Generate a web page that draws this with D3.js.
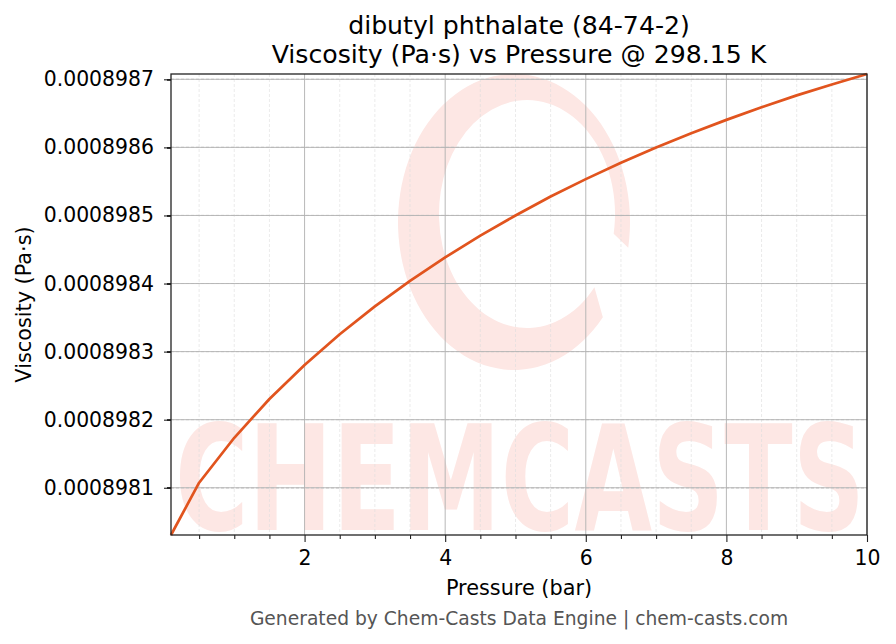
<!DOCTYPE html>
<html>
<head>
<meta charset="utf-8">
<script src="https://cdn.jsdelivr.net/npm/d3@7"></script>
<style>
  body { margin: 0; background: #fff; }
  svg { display: block; font-family: "DejaVu Sans", sans-serif; }
</style>
</head>
<body>
<svg id="chart" width="896" height="644"></svg>
<script>
// --- Data: viscosity of dibutyl phthalate at 298.15 K ---
const pressure = [0.1, 0.5, 1.0, 1.5, 2.0, 2.5, 3.0, 3.5, 4.0, 4.5, 5.0,
    5.5, 6.0, 6.5, 7.0, 7.5, 8.0, 8.5, 9.0, 9.5, 10.0];
const viscosity = [0.0008980306, 0.0008981074, 0.0008981734, 0.0008982304, 0.0008982804,
    0.0008983254, 0.0008983664, 0.0008984039, 0.0008984384, 0.0008984704, 0.0008984999,
    0.0008985279, 0.0008985534, 0.0008985774, 0.0008985999, 0.0008986209, 0.0008986404,
    0.0008986589, 0.0008986764, 0.0008986924, 0.0008987078];
const xTicks = [2, 4, 6, 8, 10];
const xMinor = [0.5, 1, 1.5, 2.5, 3, 3.5, 4.5, 5, 5.5, 6.5, 7, 7.5, 8.5, 9, 9.5];
const yTicks = [0.0008981, 0.0008982, 0.0008983, 0.0008984, 0.0008985, 0.0008986, 0.0008987];
const yMinorStep = 2e-11;

const titleLines = ["dibutyl phthalate (84-74-2)", "Viscosity (Pa\u00b7s) vs Pressure @ 298.15 K"];
const xLabel = "Pressure (bar)";
const yLabel = "Viscosity (Pa\u00b7s)";
const footer = "Generated by Chem-Casts Data Engine | chem-casts.com";

const data = pressure.map((p, i) => ({ p: p, v: viscosity[i] }));

const svg = d3.select("#chart"),
    margin = { top: 74, right: 29, bottom: 109, left: 171 },
    width = +svg.attr("width") - margin.left - margin.right,
    height = +svg.attr("height") - margin.top - margin.bottom;

const g = svg.append("g")
    .attr("transform", `translate(${margin.left},${margin.top})`);

const x = d3.scaleLinear()
    .domain(d3.extent(pressure))
    .range([0, width]);

const y = d3.scaleLinear()
    .domain(d3.extent(viscosity))
    .range([height, 0]);

// minor y ticks: 4 between each pair of majors, plus those inside the domain outside them
const yMinor = [];
for (let i = -1; i < yTicks.length; i++) {
    const base = i < 0 ? yTicks[0] - 1e-10 : yTicks[i];
    for (let k = 1; k <= 4; k++) {
        const v = base + k * yMinorStep;
        if (v > y.domain()[0] && v < y.domain()[1]) yMinor.push(v);
    }
}

// --- watermark (decorative) ---
const wm = g.append("g").attr("fill", "#fde7e4");
const ell = (cx, cy, rx, ry, deg) => {
    const t = deg * Math.PI / 180;
    return [cx + rx * Math.cos(t), cy + ry * Math.sin(t)];
};
const o1 = ell(343, 148, 116, 148, 40), o2 = ell(343, 148, 116, 148, 10);
const i1 = ell(356, 140, 88, 114, 10), i2 = ell(356, 140, 88, 114, 40);
wm.append("path")
    .attr("d", `M${o1} A116,148 0 1 1 ${o2} L${i1} A88,114 0 1 0 ${i2} Z`);
wm.append("text")
    .attr("x", 4)
    .attr("y", 456)
    .attr("font-size", 146)
    .attr("font-weight", "bold")
    .attr("textLength", 690)
    .attr("lengthAdjust", "spacingAndGlyphs")
    .text("CHEMCASTS");

// --- grid ---
const grid = g.append("g");
grid.selectAll(".xminor")
    .data(xMinor).enter().append("line")
    .attr("class", "xminor")
    .attr("x1", d => x(d)).attr("x2", d => x(d))
    .attr("y1", 0).attr("y2", height)
    .attr("stroke", "#dddddd").attr("stroke-width", 0.6).attr("stroke-dasharray", "3,2");
grid.selectAll(".yminor")
    .data(yMinor).enter().append("line")
    .attr("class", "yminor")
    .attr("x1", 0).attr("x2", width)
    .attr("y1", d => y(d)).attr("y2", d => y(d))
    .attr("stroke", "#dddddd").attr("stroke-width", 0.6).attr("stroke-dasharray", "3,2");
grid.selectAll(".xmajor")
    .data(xTicks).enter().append("line")
    .attr("class", "xmajor")
    .attr("x1", d => x(d)).attr("x2", d => x(d))
    .attr("y1", 0).attr("y2", height)
    .attr("stroke", "#b0b0b0").attr("stroke-width", 0.9);
grid.selectAll(".ymajor")
    .data(yTicks).enter().append("line")
    .attr("class", "ymajor")
    .attr("x1", 0).attr("x2", width)
    .attr("y1", d => y(d)).attr("y2", d => y(d))
    .attr("stroke", "#b0b0b0").attr("stroke-width", 0.9);

// --- data line ---
const line = d3.line()
    .x(d => x(d.p))
    .y(d => y(d.v));

g.append("path")
    .datum(data)
    .attr("fill", "none")
    .attr("stroke", "#e1541e")
    .attr("stroke-width", 2.7)
    .attr("stroke-linejoin", "round")
    .attr("d", line);

// --- axes ---
const xAxis = g.append("g")
    .attr("transform", `translate(0,${height})`)
    .call(d3.axisBottom(x).tickValues(xTicks).tickFormat(d3.format("d")).tickSize(7).tickPadding(9));
const xAxisMinor = g.append("g")
    .attr("transform", `translate(0,${height})`)
    .call(d3.axisBottom(x).tickValues(xMinor).tickFormat(() => "").tickSize(4));

const yAxis = g.append("g")
    .call(d3.axisLeft(y).tickValues(yTicks).tickFormat(d3.format(".7f")).tickSize(7).tickPadding(10));
const yAxisMinor = g.append("g")
    .call(d3.axisLeft(y).tickValues(yMinor).tickFormat(() => "").tickSize(4));

[xAxisMinor, yAxisMinor].forEach(a => a.selectAll("text").remove());
[xAxis, xAxisMinor, yAxis, yAxisMinor].forEach(a => {
    a.select(".domain").remove();
    a.selectAll(".tick line").attr("stroke", "#222").attr("stroke-width", 1.1);
    a.selectAll("text").attr("fill", "#000").attr("font-size", 20.4)
        .attr("font-family", "DejaVu Sans");
});

// frame
g.append("rect")
    .attr("width", width).attr("height", height)
    .attr("fill", "none").attr("stroke", "#222").attr("stroke-width", 1.3);

// --- text ---
svg.append("g").selectAll("text")
    .data(titleLines).enter().append("text")
    .attr("x", margin.left + width / 2)
    .attr("y", (d, i) => 34 + i * 29)
    .attr("text-anchor", "middle")
    .attr("font-size", 25.2)
    .attr("fill", "#000")
    .text(d => d);

svg.append("text")
    .attr("x", margin.left + width / 2)
    .attr("y", 595)
    .attr("text-anchor", "middle")
    .attr("font-size", 20.8)
    .text(xLabel);

svg.append("text")
    .attr("transform", `translate(31,${margin.top + height / 2}) rotate(-90)`)
    .attr("text-anchor", "middle")
    .attr("font-size", 20.8)
    .text(yLabel);

svg.append("text")
    .attr("x", margin.left + width / 2)
    .attr("y", 625)
    .attr("text-anchor", "middle")
    .attr("font-size", 18.7)
    .attr("fill", "#555")
    .text(footer);
</script>
</body>
</html>
